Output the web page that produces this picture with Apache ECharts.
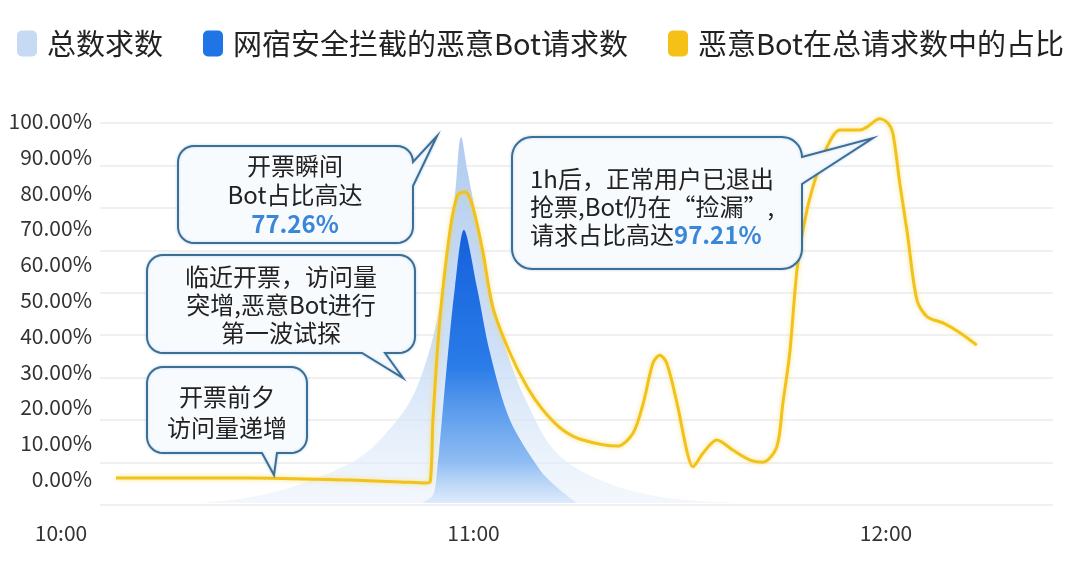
<!DOCTYPE html>
<html>
<head>
<meta charset="utf-8">
<script src="https://cdn.jsdelivr.net/npm/echarts@6/dist/echarts.min.js"></script>
<style>
  html, body { margin: 0; padding: 0; background: #fff; }
  #chart { width: 1080px; height: 567px; }
</style>
</head>
<body>
<div id="chart"></div>
<script>
const FONT = '"Noto Sans CJK SC", "Noto Sans", sans-serif';

// 时间都按 10:00 之后的分钟数记
const timeTicks = [0, 60, 120];
const pctTicks = [0, 10, 20, 30, 40, 50, 60, 70, 80, 90, 100];

// 恶意Bot在总请求数中的占比 (%)
const ratioTime = [8, 27.5, 42, 49.3, 53, 53.7, 54.1, 55.1, 56.6, 57.7, 58.8, 59.9, 61.4, 62.8, 65.3, 67.8, 70.1, 73, 75.9, 80.9, 83.2, 84.7, 86.1, 87.1, 88.1, 89.6, 91.1, 91.9, 93.4, 95.4, 97.7, 100.2, 102.1, 104.1, 105, 106, 107.1, 108.5, 110, 111.4, 113.3, 116.2, 117.2, 119.1, 120.3, 121, 122, 123.1, 124.5, 126, 128.3, 130.8, 133.2];
const ratioValue = [0.3, 0.3, -0.3, -0.8, -1.1, -0.8, 16.5, 44.4, 69.6, 79.3, 80.2, 76, 63.1, 48, 35.2, 25.7, 19.3, 13.7, 10.9, 9.2, 12.8, 21.2, 32.4, 34.6, 32.4, 21.2, 7.3, 3.4, 7.3, 10.9, 8.1, 5.3, 4.7, 8.9, 21.2, 35.2, 59.2, 75.1, 85.5, 92.7, 97.5, 97.5, 98.3, 100.6, 99.4, 96.6, 82.7, 68.7, 50, 45.3, 43.6, 40.8, 37.4];

// 总数求数 (相对量)
const totalTime = [20, 27.5, 34.8, 43.5, 48.9, 51.8, 54.7, 56.1, 57.3, 58.2, 59.1, 60.5, 62.4, 64.9, 67.8, 72.1, 78.4, 85.7, 93, 100];
const totalValue = [0, 1.5, 5, 12, 21.7, 30.4, 47.9, 65.4, 80.6, 95.8, 87.2, 74.1, 56.5, 39.3, 26.2, 13.1, 6, 2.1, 0.5, 0];

// 网宿安全拦截的恶意Bot请求数 (相对量)
const botTime = [52.5, 54.1, 54.7, 55.4, 56.3, 57.3, 58.6, 60.5, 62.4, 65.3, 69.7, 72.1, 75];
const botValue = [0, 2, 8.6, 21.7, 39.3, 56.5, 71.5, 56.5, 39.3, 21.7, 8.6, 4.2, 0];

// 气泡注释
const bubbles = [
    { x: 178, y: 146, w: 235, h: 97, r: 16, tail: { side: 'right', a: 162, b: 186, tip: [437, 136] },
      text: '开票瞬间\nBot占比高达\n{hl|77.26%}', tx: 295, ty: 195, align: 'center', lh: 29 },
    { x: 147, y: 255, w: 268, h: 98, r: 16, tail: { side: 'bottom', a: 362, b: 385, tip: [403, 378] },
      text: '临近开票，访问量\n突增,恶意Bot进行\n第一波试探', tx: 281, ty: 305, align: 'center', lh: 28 },
    { x: 147, y: 367, w: 160, h: 86, r: 16, tail: { side: 'bottom', a: 262, b: 277, tip: [274, 475] },
      text: '开票前夕\n访问量递增', tx: 227, ty: 412, align: 'center', lh: 31 },
    { x: 512, y: 137, w: 290, h: 132, r: 20, tail: { side: 'right', a: 157, b: 184, tip: [873, 138] },
      text: '1h后，正常用户已退出\n抢票,Bot仍在“捡漏”,\n请求占比高达{hl|97.21%}', tx: 530, ty: 207, align: 'left', lh: 28 }
];

function zip(a, b) {
    return a.map((v, i) => [v, b[i]]);
}

function fmtTime(m) {
    const h = 10 + Math.floor(m / 60);
    const mm = m % 60;
    return h + ':' + (mm < 10 ? '0' : '') + mm;
}

// 圆角矩形 + 尖角, 顺时针取点
function bubblePoints(b) {
    const { x, y, w, h, r, tail } = b;
    const pts = [];
    const arc = (cx, cy, a0, a1) => {
        for (let i = 0; i <= 8; i++) {
            const a = (a0 + (a1 - a0) * i / 8) * Math.PI / 180;
            pts.push([cx + r * Math.cos(a), cy + r * Math.sin(a)]);
        }
    };
    arc(x + w - r, y + r, -90, 0);
    if (tail.side === 'right') pts.push([x + w, tail.a], tail.tip, [x + w, tail.b]);
    arc(x + w - r, y + h - r, 0, 90);
    if (tail.side === 'bottom') pts.push([tail.b, y + h], tail.tip, [tail.a, y + h]);
    arc(x + r, y + h - r, 90, 180);
    arc(x + r, y + r, 180, 270);
    return pts;
}

function buildGraphics() {
    const list = [];
    bubbles.forEach(b => {
        list.push({
            type: 'polygon',
            z: 100,
            shape: { points: bubblePoints(b) },
            style: {
                fill: '#f8fbfe',
                stroke: '#3d6e93',
                lineWidth: 2,
                shadowBlur: 3,
                shadowColor: 'rgba(80,150,220,0.35)'
            }
        });
        list.push({
            type: 'text',
            z: 101,
            x: b.tx,
            y: b.ty,
            style: {
                text: b.text,
                align: b.align,
                verticalAlign: 'middle',
                fill: '#222',
                fontSize: 24,
                fontFamily: FONT,
                lineHeight: b.lh,
                rich: {
                    hl: { fill: '#3a86d8', fontWeight: 'bold', fontSize: 24, fontFamily: FONT, lineHeight: b.lh }
                }
            }
        });
    });
    return list;
}

window.addEventListener('DOMContentLoaded', function() {
    const myChart = echarts.init(document.getElementById('chart'));

    const option = {
        animation: false,
        legend: {
            left: 12,
            top: 24,
            icon: 'roundRect',
            itemWidth: 20,
            itemHeight: 26,
            itemGap: 40,
            textStyle: { fontSize: 29, color: '#222', fontFamily: FONT, padding: [0, 0, 0, 5] },
            data: ['总数求数', '网宿安全拦截的恶意Bot请求数', '恶意Bot在总请求数中的占比']
        },
        grid: [
            { left: 61, right: 56.5, top: 121, bottom: 64 },
            { left: 100, right: 27, top: 123, bottom: 62 }
        ],
        xAxis: [
            {
                type: 'value',
                gridIndex: 0,
                min: 0,
                max: 140,
                axisLine: { show: false },
                axisTick: { show: false },
                splitLine: { show: false },
                axisLabel: {
                    customValues: timeTicks,
                    formatter: fmtTime,
                    margin: 20,
                    fontSize: 21,
                    color: '#333',
                    fontFamily: FONT
                }
            },
            { type: 'value', gridIndex: 1, min: 0, max: 1, show: false }
        ],
        yAxis: [
            {
                type: 'value',
                gridIndex: 0,
                min: -6.7,
                max: 100,
                offset: -39,
                axisLine: { show: false },
                axisTick: { show: false },
                splitLine: { show: false },
                axisLabel: {
                    customValues: pctTicks,
                    formatter: v => v.toFixed(2) + '%',
                    margin: 8,
                    fontSize: 21,
                    color: '#333',
                    fontFamily: FONT
                }
            },
            { type: 'value', gridIndex: 0, min: 0, max: 100, show: false },
            {
                type: 'value',
                gridIndex: 1,
                min: 0,
                max: 9,
                interval: 1,
                axisLine: { show: false },
                axisTick: { show: false },
                axisLabel: { show: false },
                splitLine: { lineStyle: { color: '#ebebeb', width: 1.5 } }
            }
        ],
        series: [
            {
                name: '总数求数',
                type: 'line',
                xAxisIndex: 0,
                yAxisIndex: 1,
                data: zip(totalTime, totalValue),
                smooth: 0.35,
                symbol: 'none',
                lineStyle: { width: 0 },
                itemStyle: { color: '#c6daf3' },
                areaStyle: {
                    opacity: 1,
                    color: new echarts.graphic.LinearGradient(0, 0, 0, 1, [
                        { offset: 0, color: 'rgba(176,204,240,1)' },
                        { offset: 0.6, color: 'rgba(200,220,246,0.85)' },
                        { offset: 1, color: 'rgba(232,240,251,0.5)' }
                    ])
                },
                z: 1
            },
            {
                name: '网宿安全拦截的恶意Bot请求数',
                type: 'line',
                xAxisIndex: 0,
                yAxisIndex: 1,
                data: zip(botTime, botValue),
                smooth: 0.3,
                symbol: 'none',
                lineStyle: { width: 0 },
                itemStyle: { color: '#1f74e6' },
                areaStyle: {
                    opacity: 1,
                    color: new echarts.graphic.LinearGradient(0, 0, 0, 1, [
                        { offset: 0, color: '#1560dc' },
                        { offset: 0.5, color: '#2a7ce8' },
                        { offset: 0.85, color: 'rgba(120,175,240,0.8)' },
                        { offset: 1, color: 'rgba(205,226,250,0.6)' }
                    ])
                },
                z: 2
            },
            {
                name: '恶意Bot在总请求数中的占比',
                type: 'line',
                xAxisIndex: 0,
                yAxisIndex: 0,
                data: zip(ratioTime, ratioValue),
                smooth: 0.3,
                symbol: 'none',
                clip: false,
                itemStyle: { color: '#f5c116' },
                lineStyle: { color: '#f2c21b', width: 3, shadowColor: 'rgba(245,210,60,0.6)', shadowBlur: 5 },
                z: 5
            }
        ],
        graphic: buildGraphics()
    };

    myChart.setOption(option);
    window.addEventListener('resize', () => myChart.resize());
});
</script>
</body>
</html>
